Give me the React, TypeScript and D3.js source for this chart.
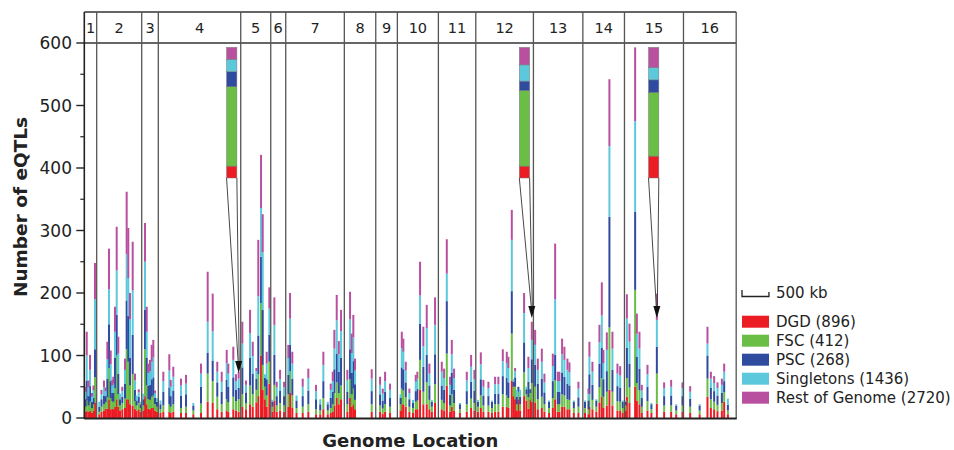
import React from "react";
import * as d3 from "d3";

// ---------- data ----------
const chromosomes = ["1", "2", "3", "4", "5", "6", "7", "8", "9", "10", "11", "12", "13", "14", "15", "16"];
const chromLengthKb = [230, 835, 308, 1529, 557, 278, 1087, 583, 401, 761, 694, 1069, 917, 772, 1095, 978];

const seriesNames = ["DGD", "FSC", "PSC", "Singletons", "Rest of Genome"];
const seriesTotals = [896, 412, 268, 1436, 2720];
const seriesColors = ["#ec1c24", "#6abd45", "#2f4b9f", "#5cc8dc", "#b9509f"];

const yTicks = [0, 100, 200, 300, 400, 500, 600];
const yMinorTicks = [50, 150, 250, 350, 450, 550];
const scaleBarKb = 500;

// bars: [position within chromosome (kb), DGD, FSC, PSC, Singletons, Rest of Genome]
const chr1Bars = [
  [22, 10, 8, 12, 12, 8], [45, 12, 16, 32, 40, 38], [78, 10, 10, 15, 14, 11], [106, 12, 14, 25, 26, 24],
  [143, 8, 8, 10, 8, 6], [170, 12, 10, 10, 12, 8], [198, 25, 40, 45, 80, 58],
];
const chr2Bars = [
  [48, 6, 4, 8, 8, 0], [89, 10, 8, 12, 8, 7], [135, 12, 10, 14, 13, 11], [165, 15, 10, 10, 8, 6],
  [197, 15, 18, 30, 31, 28], [228, 30, 50, 70, 56, 65], [260, 14, 18, 27, 27, 22], [290, 15, 12, 13, 12, 9],
  [308, 14, 12, 14, 15, 11], [339, 18, 30, 48, 42, 40], [371, 30, 70, 65, 71, 70], [401, 18, 20, 33, 32, 27],
  [432, 12, 8, 10, 9, 0], [475, 14, 10, 10, 9, 7], [525, 16, 15, 24, 22, 18], [556, 30, 80, 78, 74, 100],
  [586, 30, 60, 73, 61, 80], [618, 22, 30, 44, 62, 42], [668, 20, 50, 63, 71, 78], [710, 15, 12, 18, 15, 11],
  [740, 12, 8, 8, 8, 0], [780, 14, 10, 10, 7, 5], [815, 10, 6, 6, 4, 0],
];
const chr3Bars = [
  [30, 12, 8, 10, 9, 0], [61, 35, 75, 63, 77, 62], [93, 22, 30, 44, 42, 40], [123, 15, 15, 22, 20, 15],
  [154, 14, 15, 24, 22, 18], [185, 16, 18, 28, 28, 27], [215, 16, 20, 29, 32, 28], [247, 12, 10, 10, 8, 4],
  [284, 10, 8, 8, 6, 0],
];
const chr4Bars = [
  [40, 8, 6, 8, 6, 0], [93, 10, 10, 22, 17, 15], [204, 10, 12, 27, 27, 26], [230, 8, 10, 17, 15, 11],
  [278, 10, 12, 22, 22, 16], [421, 8, 8, 20, 16, 11], [514, 8, 10, 20, 17, 14], [650, 6, 6, 8, 4, 0],
  [792, 8, 15, 27, 21, 16], [916, 26, 45, 33, 50, 80], [1009, 24, 35, 33, 47, 60], [1094, 14, 20, 23, 17, 16],
  [1176, 10, 12, 20, 16, 16], [1269, 12, 18, 31, 27, 21], [1298, 10, 15, 25, 21, 16], [1391, 14, 20, 31, 28, 21],
  [1441, 12, 15, 18, 14, 11], [1491, 10, 20, 18, 15, 11],
];
const chr5Bars = [
  [30, 18, 20, 43, 38, 35], [98, 14, 10, 17, 12, 7], [173, 22, 30, 44, 40, 37], [223, 18, 20, 33, 28, 23],
  [290, 25, 20, 18, 12, 5], [326, 35, 35, 62, 63, 90], [377, 100, 84, 74, 78, 85], [408, 45, 40, 88, 92, 61],
  [450, 30, 20, 14, 6, 0], [482, 18, 18, 26, 25, 19], [531, 55, 35, 43, 42, 34],
];
const chr6Bars = [
  [30, 10, 8, 8, 3, 0], [67, 28, 25, 48, 48, 44], [111, 10, 10, 15, 14, 9], [173, 12, 12, 20, 18, 15],
  [247, 10, 10, 15, 14, 9],
];
const chr7Bars = [
  [48, 18, 20, 31, 27, 21], [80, 40, 35, 42, 42, 41], [122, 16, 20, 27, 24, 19], [200, 8, 8, 12, 8, 0],
  [315, 8, 10, 17, 15, 13], [419, 10, 12, 22, 20, 15], [562, 6, 8, 16, 13, 10], [640, 6, 6, 10, 8, 0],
  [698, 14, 18, 27, 26, 21], [780, 6, 6, 10, 4, 0], [835, 8, 8, 16, 13, 10], [872, 10, 12, 20, 17, 15],
  [902, 20, 20, 38, 33, 30], [946, 32, 25, 46, 53, 41], [985, 22, 18, 34, 28, 21], [1026, 30, 22, 44, 43, 34],
];
const chr8Bars = [
  [56, 10, 12, 20, 19, 16], [106, 32, 30, 48, 48, 44], [137, 18, 20, 34, 32, 31], [167, 22, 25, 44, 38, 36],
  [198, 14, 15, 25, 22, 19], [508, 10, 12, 21, 20, 15],
];
const chr9Bars = [
  [80, 10, 10, 18, 15, 13], [130, 7, 8, 13, 11, 8], [173, 10, 12, 20, 17, 15], [265, 8, 10, 14, 13, 10],
];
const chr10Bars = [
  [60, 12, 10, 10, 6, 0], [82, 22, 25, 34, 31, 26], [111, 22, 22, 34, 28, 21], [156, 18, 15, 24, 19, 14],
  [223, 10, 8, 12, 10, 7], [290, 8, 8, 8, 5, 0], [341, 14, 12, 17, 15, 11], [371, 14, 14, 19, 16, 11],
  [421, 45, 48, 58, 45, 54], [482, 22, 20, 40, 33, 31], [545, 22, 35, 44, 43, 37], [594, 14, 15, 23, 19, 16],
  [640, 10, 8, 8, 3, 0], [699, 24, 30, 48, 47, 44],
];
const chr11Bars = [
  [63, 14, 15, 23, 22, 16], [106, 12, 12, 21, 19, 15], [156, 52, 51, 84, 44, 55], [217, 10, 10, 17, 16, 13],
  [249, 18, 20, 34, 30, 23], [291, 12, 12, 21, 19, 15], [400, 8, 6, 8, 2, 0], [527, 10, 12, 21, 17, 14],
  [607, 16, 15, 27, 24, 19], [668, 12, 12, 20, 18, 15],
];
const chr12Bars = [
  [40, 10, 8, 8, 3, 0], [93, 16, 20, 26, 24, 19], [141, 10, 10, 16, 14, 11], [234, 10, 10, 15, 13, 10],
  [300, 8, 8, 10, 2, 0], [358, 10, 12, 17, 15, 12], [419, 10, 12, 17, 15, 12], [501, 18, 20, 29, 24, 19],
  [575, 18, 18, 28, 24, 18], [605, 16, 16, 25, 23, 18], [668, 60, 75, 68, 82, 48], [700, 35, 15, 8, 4, 0],
  [729, 30, 20, 15, 10, 5], [760, 12, 10, 12, 11, 0], [790, 30, 12, 8, 0, 0], [822, 12, 10, 12, 11, 0],
  [896, 35, 38, 48, 47, 32], [940, 28, 10, 8, 4, 0], [976, 15, 18, 25, 22, 18], [1010, 30, 10, 6, 0, 0],
  [1039, 26, 30, 38, 31, 29],
];
const chr13Bars = [
  [32, 25, 25, 35, 32, 24], [82, 14, 16, 25, 22, 18], [156, 16, 18, 29, 27, 21], [204, 10, 12, 19, 16, 14],
  [290, 8, 8, 10, 2, 0], [360, 16, 16, 27, 24, 20], [403, 30, 30, 41, 89, 89], [453, 10, 12, 20, 17, 15],
  [482, 10, 12, 20, 17, 15], [532, 18, 20, 34, 30, 25], [575, 18, 18, 30, 27, 21], [631, 14, 16, 25, 22, 18],
  [668, 14, 15, 23, 21, 16], [750, 8, 8, 10, 2, 0], [835, 8, 10, 15, 14, 11],
];
const chr14Bars = [
  [40, 8, 8, 10, 2, 0], [104, 6, 8, 14, 11, 8], [122, 18, 20, 32, 28, 24], [178, 14, 15, 24, 21, 16],
  [250, 10, 8, 10, 2, 0], [308, 24, 25, 38, 34, 28], [352, 34, 30, 48, 52, 53], [382, 16, 18, 28, 26, 21],
  [445, 20, 22, 33, 34, 28], [493, 45, 100, 177, 113, 107], [549, 20, 22, 35, 34, 27], [642, 12, 15, 24, 20, 16],
  [692, 12, 14, 22, 20, 15], [740, 8, 8, 10, 2, 0],
];
const chr15Bars = [
  [20, 12, 8, 6, 2, 0], [45, 34, 30, 48, 47, 39], [93, 24, 25, 38, 35, 29], [198, 50, 155, 125, 145, 118],
  [230, 28, 28, 42, 37, 32], [278, 22, 22, 35, 32, 27], [322, 8, 10, 14, 12, 9], [427, 12, 15, 23, 20, 15],
  [500, 8, 6, 8, 2, 0], [601, 23, 48, 43, 43, 42], [736, 10, 10, 15, 13, 9], [866, 10, 10, 16, 14, 11],
  [960, 6, 6, 8, 2, 0], [1076, 10, 10, 15, 13, 9],
];
const chr16Bars = [
  [124, 8, 10, 13, 11, 9], [300, 6, 6, 8, 2, 0], [445, 34, 29, 37, 19, 27], [508, 16, 14, 18, 15, 11],
  [569, 14, 12, 17, 13, 11], [631, 11, 10, 15, 12, 9], [712, 12, 12, 16, 13, 10], [755, 26, 15, 18, 15, 13],
  [824, 6, 6, 9, 10, 0],
];
const barsByChromosome = [
  chr1Bars, chr2Bars, chr3Bars, chr4Bars, chr5Bars, chr6Bars, chr7Bars, chr8Bars,
  chr9Bars, chr10Bars, chr11Bars, chr12Bars, chr13Bars, chr14Bars, chr15Bars, chr16Bars,
];

// magnified insets (chromosome index, inset centre kb, arrow target kb, arrow tip value, base value, segment sizes)
const insetChromosome = [3, 11, 14];
const insetCenterKb = [1362, 903, 542];
const insetTargetKb = [1491, 1039, 601];
const arrowTipValue = [72, 160, 160];
const insetBaseValue = 384;
const insetSegments = [
  [19, 127, 24, 20, 19],
  [19, 121, 15, 26, 28],
  [35, 102, 20, 20, 32],
];

// ---------- component ----------
export default function App() {
  const W = 954, H = 450;
  const left = 84.3, right = 736.2, top = 12, labelBottom = 43, bottom = 418;
  const font = "'DejaVu Sans', 'Liberation Sans', Arial, sans-serif";
  const totalKb = d3.sum(chromLengthKb);
  const x = d3.scaleLinear().domain([0, totalKb]).range([left, right]);
  const y = d3.scaleLinear().domain([0, 600]).range([bottom, labelBottom]);
  const starts = Array.from(d3.cumsum([0, ...chromLengthKb]));

  const rows = barsByChromosome.flatMap((bars, ci) =>
    bars.map((b) => {
      const r: any = { pos: starts[ci] + b[0] };
      seriesNames.forEach((n, i) => (r[n] = b[i + 1]));
      return r;
    })
  );
  const stack = d3.stack().keys(seriesNames)(rows as any);
  const barW = 2;

  const insets = insetChromosome.map((ci, k) => {
    const r: any = { pos: starts[ci] + insetCenterKb[k] };
    seriesNames.forEach((n, i) => (r[n] = insetSegments[k][i]));
    return r;
  });
  const insetStack = d3.stack().keys(seriesNames)(insets as any);
  const insetW = 10.3;

  const legendX = 742, legendY = 315.7, legendStep = 19;

  return (
    <svg width={W} height={H} style={{ position: "absolute", left: 0, top: 0, background: "#fff" }}
      fontFamily={font}>
      <rect width={W} height={H} fill="#fff" />
      {/* bars */}
      {stack.map((s, si) => (
        <g key={si} fill={seriesColors[si]}>
          {s.map((d: any, i: number) =>
            d[1] > d[0] ? (
              <rect key={i} x={x(d.data.pos) - barW / 2} y={y(d[1])} width={barW}
                height={y(d[0]) - y(d[1])} />
            ) : null
          )}
        </g>
      ))}
      {/* chromosome frame */}
      <line x1={left} x2={right} y1={top} y2={top} stroke="#333" strokeWidth={1.3} />
      <line x1={left} x2={right} y1={labelBottom} y2={labelBottom} stroke="#333" strokeWidth={1.3} />
      {starts.slice(1).map((s, i) => (
        <line key={i} x1={x(s)} x2={x(s)} y1={top} y2={bottom} stroke="#555" strokeWidth={1.3} />
      ))}
      {chromosomes.map((c, i) => (
        <text key={c} x={x(starts[i] + chromLengthKb[i] / 2)} y={33} fontSize={14.5} textAnchor="middle"
          fill="#222">{c}</text>
      ))}
      {/* insets */}
      {insetStack.map((s, si) => (
        <g key={si} fill={seriesColors[si]} stroke="#777" strokeWidth={0.5}>
          {s.map((d: any, i: number) => (
            <rect key={i} x={x(d.data.pos) - insetW / 2} y={y(insetBaseValue + d[1])} width={insetW}
              height={y(insetBaseValue + d[0]) - y(insetBaseValue + d[1])} />
          ))}
        </g>
      ))}
      {insetChromosome.map((ci, k) => {
        const cx = x(starts[ci] + insetCenterKb[k]);
        const tx = x(starts[ci] + insetTargetKb[k]);
        const ty = y(arrowTipValue[k]);
        const by = y(insetBaseValue);
        const head = 12;
        return (
          <g key={k}>
            <line x1={cx - insetW / 2} y1={by} x2={tx - 0.5} y2={ty - head + 1} stroke="#333" strokeWidth={0.9} />
            <line x1={cx + insetW / 2} y1={by} x2={tx + 0.5} y2={ty - head + 1} stroke="#333" strokeWidth={0.9} />
            <path d={`M${tx - 3.5},${ty - head} L${tx + 3.5},${ty - head} L${tx},${ty} Z`} fill="#111" />
          </g>
        );
      })}
      {/* axes */}
      <line x1={left} x2={left} y1={top} y2={bottom + 1} stroke="#222" strokeWidth={1.6} />
      <line x1={left} x2={right + 0.6} y1={bottom + 0.5} y2={bottom + 0.5} stroke="#222" strokeWidth={2} />
      {yTicks.map((t) => (
        <g key={t}>
          <line x1={left - 8} x2={left} y1={y(t)} y2={y(t)} stroke="#222" strokeWidth={1.4} />
          <text x={72} y={y(t) + 6} fontSize={17} textAnchor="end" fill="#222">{t}</text>
        </g>
      ))}
      {yMinorTicks.map((t) => (
        <line key={t} x1={left - 4} x2={left} y1={y(t)} y2={y(t)} stroke="#222" strokeWidth={1.2} />
      ))}
      <text transform={`translate(27,${(116 + 298) / 2}) rotate(-90)`} fontSize={18.5} fontWeight="bold"
        textAnchor="middle" fill="#222">Number of eQTLs</text>
      <text x={(left + right) / 2} y={447} fontSize={18} fontWeight="bold" textAnchor="middle" fill="#222">
        Genome Location
      </text>
      {/* scale bar */}
      {(() => {
        const w = x(scaleBarKb) - x(0);
        return (
          <g stroke="#222" strokeWidth={1.3} fill="none">
            <path d={`M${legendX},290 V296.5 H${legendX + w} V292`} />
          </g>
        );
      })()}
      <text x={776} y={298} fontSize={15} fill="#222">{`${scaleBarKb} kb`}</text>
      {/* legend */}
      {seriesNames.map((n, i) => (
        <g key={n}>
          <rect x={legendX} y={legendY + i * legendStep} width={27} height={12} fill={seriesColors[i]} />
          <text x={776} y={legendY + i * legendStep + 11.5} fontSize={15} fill="#222">
            {`${n} (${seriesTotals[i]})`}
          </text>
        </g>
      ))}
    </svg>
  );
}
